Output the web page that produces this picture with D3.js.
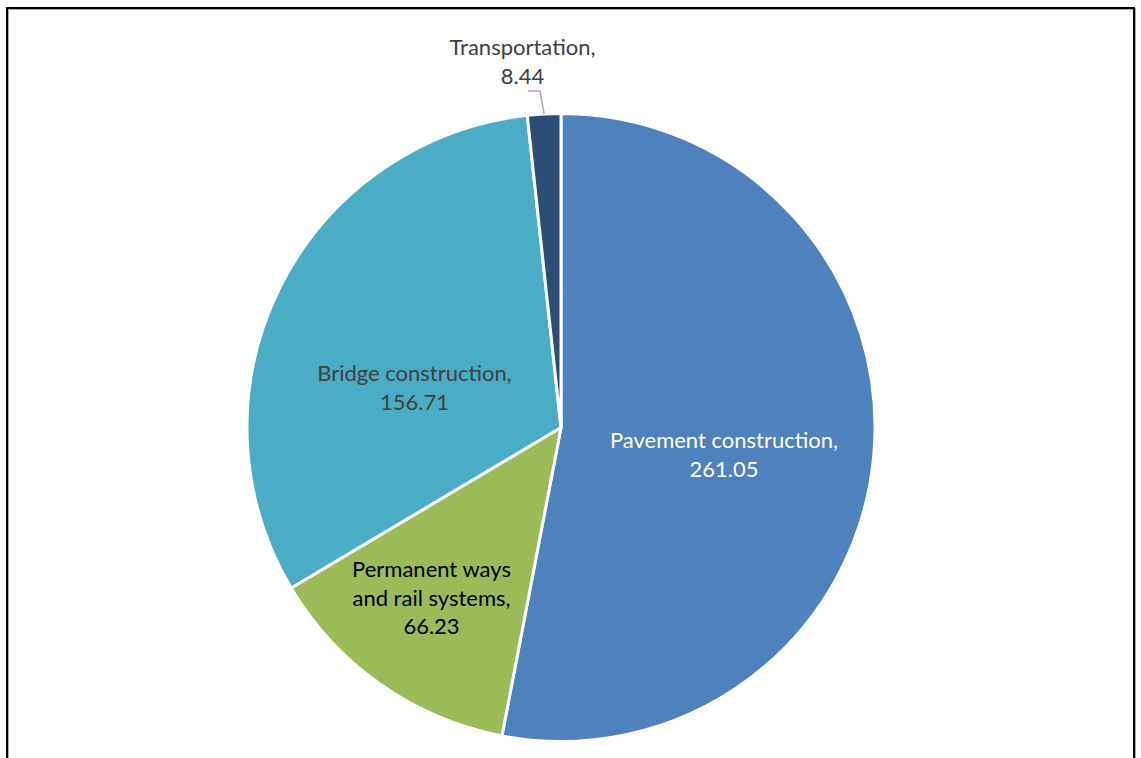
<!DOCTYPE html>
<html>
<head>
<meta charset="utf-8">
<script src="https://cdn.jsdelivr.net/npm/d3@7"></script>
<style>
  html, body { margin: 0; padding: 0; background: #fff; }
  svg { display: block; }
  text { font-family: "Lato", "Open Sans", sans-serif; font-size: 22px; }
</style>
</head>
<body>
<svg id="chart" width="1141" height="758"></svg>
<script>
// Spending by category (order is clockwise from 12 o'clock)
const categories = ["Pavement construction", "Permanent ways and rail systems", "Bridge construction", "Transportation"];
const values = [261.05, 66.23, 156.71, 8.44];
const colors = ["#4F81BD", "#9BBB59", "#4BACC6", "#2C4D75"];
const labelColors = ["#ffffff", "#000000", "#404040", "#404040"];
// Label lines as they are wrapped on the chart
const labelLines = [
  ["Pavement construction,", "261.05"],
  ["Permanent ways", "and rail systems,", "66.23"],
  ["Bridge construction,", "156.71"],
  ["Transportation,", "8.44"]
];

const svg = d3.select("#chart");
const W = 1141, H = 758;

// Frame with a soft shadow
svg.append("rect").attr("x", 8).attr("y", 9).attr("width", W - 14).attr("height", H + 10)
  .attr("fill", "none").attr("stroke", "#aaa").attr("stroke-width", 2);
svg.append("rect").attr("x", 7).attr("y", 8).attr("width", W - 14).attr("height", H + 10)
  .attr("fill", "none").attr("stroke", "#000").attr("stroke-width", 2);

const cx = 561, cy = 427.5, R = 314;
const data = categories.map((c, i) => ({ name: c, value: values[i], i }));

const pie = d3.pie().value(d => d.value).sort(null);
const arcs = pie(data);
const arc = d3.arc().innerRadius(0).outerRadius(R);

const g = svg.append("g").attr("transform", `translate(${cx},${cy})`);
g.selectAll("path.slice").data(arcs).enter().append("path")
  .attr("class", "slice")
  .attr("d", arc)
  .attr("fill", d => colors[d.data.i])
  .attr("stroke", "#fff")
  .attr("stroke-width", 3)
  .attr("stroke-linejoin", "round");

// Label anchors (centre x, first baseline) relative to the pie centre
const lineH = 28.5;
const labelPos = [[163, 20.5], [-129.5, 149.5], [-146.5, -46.5], [-38.5, -372.5]];
arcs.forEach(a => {
  const i = a.data.i;
  const [x, y] = labelPos[i];
  const t = g.append("text")
    .attr("text-anchor", "middle")
    .attr("fill", labelColors[i]);
  labelLines[i].forEach((ln, j) => {
    t.append("tspan").attr("x", x).attr("y", y + j * lineH).text(ln);
  });
  if (i === 3) {
    // leader line from the label down to the slice's outer edge
    const mid = (a.startAngle + a.endAngle) / 2;
    const ex = Math.sin(mid) * R, ey = -Math.cos(mid) * R;
    g.append("path")
      .attr("d", `M${x + 5.5},${y + 36} L${x + 17.5},${y + 36} L${ex},${ey}`)
      .attr("fill", "none").attr("stroke", "#a6a6a6").attr("stroke-width", 1.5);
  }
});
</script>
</body>
</html>
